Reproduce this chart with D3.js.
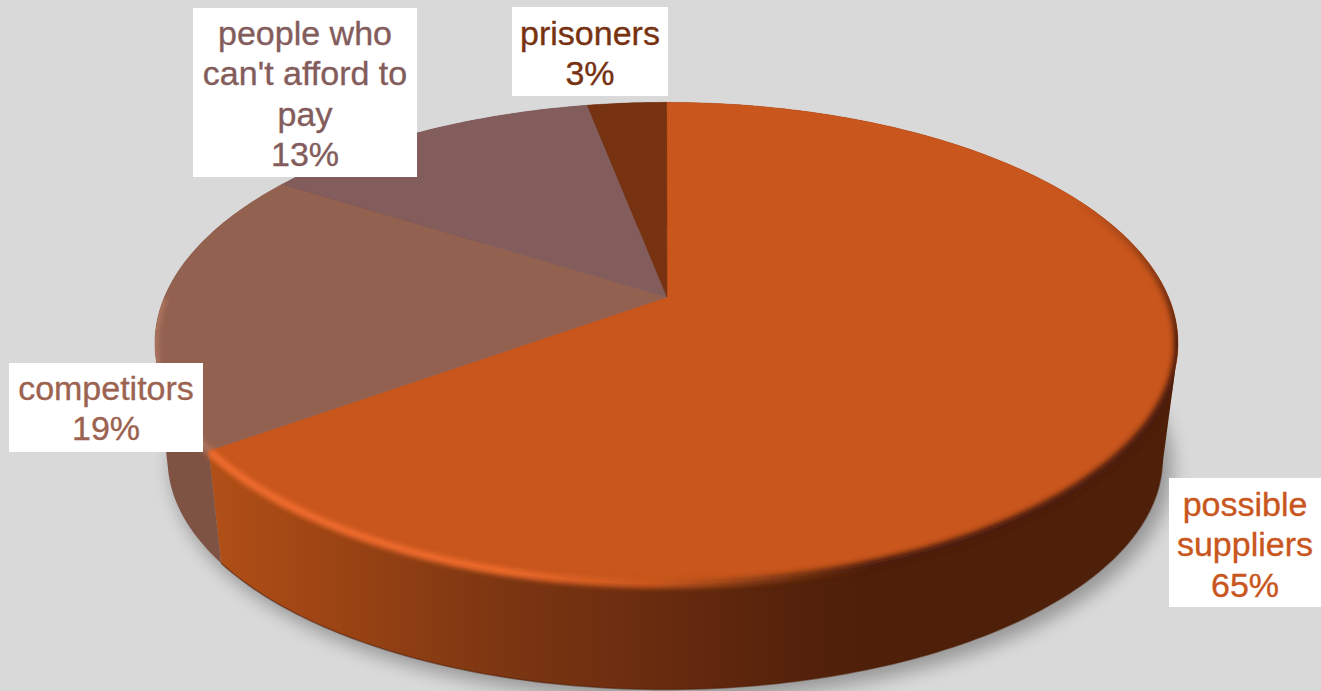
<!DOCTYPE html>
<html>
<head>
<meta charset="utf-8">
<script src="https://cdn.jsdelivr.net/npm/d3@7"></script>
<style>
html,body{margin:0;padding:0;background:#d9d9d9;overflow:hidden}
svg{display:block}
text{font-family:"Liberation Sans",Arial,sans-serif;font-size:34px;text-anchor:middle;stroke-width:.35px}
</style>
</head>
<body>
<svg id="chart" width="1321" height="691"></svg>
<script>
// Chart values
const categories = ["possible suppliers", "competitors", "people who can't afford to pay", "prisoners"];
const shares = [65, 19, 13, 3];
const topColors = ["#c8561d", "#936150", "#835c5c", "#763211"];
const textColors = ["#c8561d", "#9b6350", "#835c5c", "#763211"];
const wallColors = ["url(#wallGrad)", "#7f5344", "#6e4c4c", "#5e280d"];

// Label boxes and their wrapped lines
const labelLines = [["possible", "suppliers"], ["competitors"], ["people who", "can't afford to", "pay"], ["prisoners"]];
const labelBoxes = [
  {x: 1169, y: 478, w: 152, h: 129, cx: 1245, base: 516},
  {x: 9, y: 363, w: 194, h: 89, cx: 106, base: 400},
  {x: 193, y: 8, w: 224, h: 169, cx: 305, base: 45},
  {x: 512, y: 7, w: 156, h: 89, cx: 590, base: 45}
];
const lineGap = 40.3;

// Perspective disc: unit circle projected with a foreshortening factor k
const topDisc = {x0: 666.5, y0: 297, a: 502, b: 232, k: 0.192, twist: 0};
const baseDisc = {x0: 665, y0: 408, a: 485, b: 219, k: 0.222, twist: 0.03};
const project = (d, angle) => {
  const u = Math.sin(angle - d.twist), v = -Math.cos(angle - d.twist);
  const w = 1 - d.k * v;
  return [d.x0 + d.a * u / w, d.y0 + d.b * v / w];
};
const arcPoints = (d, a0, a1) => {
  const n = Math.max(4, Math.ceil((a1 - a0) * 60));
  return d3.range(n + 1).map(i => project(d, a0 + (a1 - a0) * i / n));
};

const pie = d3.pie().sort(null).value(v => v);
const slices = pie(shares);
const outline = d3.line();
const TAU = Math.PI * 2;

// A wall is a run of quads joining matching points on the upper and lower rims.
// Every quad is wound the same way so that overlapping ones never cancel out.
const wallPath = s => {
  const up = arcPoints(topDisc, s.startAngle, s.endAngle);
  const low = arcPoints(baseDisc, s.startAngle, s.endAngle);
  return d3.range(up.length - 1).map(i => {
    const quad = [up[i], up[i + 1], low[i + 1], low[i]];
    return outline(d3.polygonArea(quad) < 0 ? quad.reverse() : quad) + "Z";
  }).join("");
};

const svg = d3.select("#chart");
const defs = svg.append("defs");
const blur = (id, sd) => defs.append("filter").attr("id", id)
  .attr("x", "-20%").attr("y", "-20%").attr("width", "140%").attr("height", "140%")
  .append("feGaussianBlur").attr("stdDeviation", sd);
blur("shadowBlur", 9);
blur("rimBlur", 2.6);

const grad = (id, stops) => {
  const g = defs.append("linearGradient").attr("id", id).attr("gradientUnits", "userSpaceOnUse")
    .attr("x1", 215).attr("x2", 1177).attr("y1", 0).attr("y2", 0);
  stops.forEach(([o, c]) => g.append("stop").attr("offset", o).attr("stop-color", c));
};
grad("wallGrad", [[0, "#b04f17"], [0.1, "#a04614"], [0.3, "#7c3612"], [0.45, "#6a2c0f"], [0.6, "#55220b"], [0.68, "#4e1f09"], [1, "#4e1f09"]]);
grad("rimGrad", [[0, "#f06c2e"], [0.3, "#ee6a2c"], [0.46, "#c8561d"], [0.56, "#8a3e15"], [0.68, "#4e1f09"], [1, "#4e1f09"]]);

// The bevel fades out towards the back of the disc
const fade = defs.append("linearGradient").attr("id", "rimFade").attr("gradientUnits", "userSpaceOnUse")
  .attr("x1", 0).attr("x2", 0).attr("y1", 200).attr("y2", 340);
fade.append("stop").attr("offset", 0).attr("stop-color", "#000");
fade.append("stop").attr("offset", 1).attr("stop-color", "#fff");
defs.append("mask").attr("id", "rimMask").attr("maskUnits", "userSpaceOnUse")
  .attr("x", 0).attr("y", 0).attr("width", 1321).attr("height", 691)
  .append("rect").attr("width", 1321).attr("height", 691).attr("fill", "url(#rimFade)");

// Clip for the bevel: top face plus the walls
const bodyClip = defs.append("clipPath").attr("id", "bodyClip");
bodyClip.append("path").attr("d", outline(arcPoints(topDisc, 0, TAU)) + "Z");
bodyClip.selectAll("path.wall").data(slices).join("path").attr("class", "wall").attr("d", wallPath);

// Soft cast shadow under the disc
svg.append("path")
  .attr("d", outline(arcPoints(baseDisc, 0, TAU)) + "Z")
  .attr("transform", "translate(7,7)")
  .attr("fill", "#000").attr("stroke", "#000").attr("stroke-width", 6).attr("opacity", 0.3)
  .attr("filter", "url(#shadowBlur)");

// Side walls
svg.append("g").selectAll("path").data(slices).join("path")
  .attr("d", wallPath)
  .attr("fill", (s, i) => wallColors[i]);

// Dark line along the lower edge of the wall
svg.append("path")
  .attr("d", outline(arcPoints(baseDisc, slices[0].startAngle + 0.45, slices[0].endAngle)))
  .attr("fill", "none").attr("stroke", "#4e1f09").attr("stroke-opacity", 0.55).attr("stroke-width", 1.5);

// Top face
svg.append("g").selectAll("path").data(slices).join("path")
  .attr("d", s => outline([[667, topDisc.y0], ...arcPoints(topDisc, s.startAngle, s.endAngle)]) + "Z")
  .attr("fill", (s, i) => topColors[i])
  .attr("stroke", (s, i) => topColors[i]).attr("stroke-width", 0.5);

// Bevel along the rim of the top face
const rim = svg.append("g").attr("clip-path", "url(#bodyClip)");
rim.append("g").attr("mask", "url(#rimMask)").append("path")
  .attr("d", outline(arcPoints(topDisc, Math.PI * 0.25, slices[0].endAngle)))
  .attr("fill", "none").attr("stroke", "url(#rimGrad)").attr("stroke-width", 8)
  .attr("filter", "url(#rimBlur)");
rim.append("path")
  .attr("d", outline(arcPoints(topDisc, slices[1].startAngle, slices[1].startAngle + 0.62)))
  .attr("fill", "none").attr("stroke", "#ad7660").attr("stroke-width", 7)
  .attr("filter", "url(#rimBlur)");

// Data labels on white boxes
const labels = svg.append("g").selectAll("g").data(slices).join("g");
labels.append("rect")
  .attr("x", (s, i) => labelBoxes[i].x).attr("y", (s, i) => labelBoxes[i].y)
  .attr("width", (s, i) => labelBoxes[i].w).attr("height", (s, i) => labelBoxes[i].h)
  .attr("fill", "#fff");
labels.append("text")
  .attr("fill", (s, i) => textColors[i])
  .attr("stroke", (s, i) => textColors[i])
  .selectAll("tspan")
  .data((s, i) => [...labelLines[i], `${s.data}%`].map((t, j) => ({t, j, i})))
  .join("tspan")
  .attr("x", d => labelBoxes[d.i].cx)
  .attr("y", d => labelBoxes[d.i].base + d.j * lineGap)
  .text(d => d.t);
</script>
</body>
</html>
